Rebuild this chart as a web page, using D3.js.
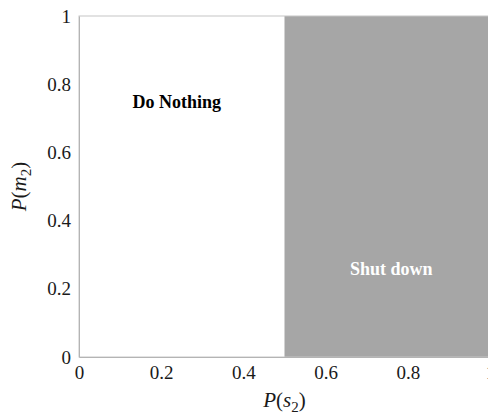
<!DOCTYPE html>
<html>
<head>
<meta charset="utf-8">
<script src="https://cdn.jsdelivr.net/npm/d3@7"></script>
<style>
  html, body { margin: 0; padding: 0; background: #fff; }
  svg { display: block; }
</style>
</head>
<body>
<svg id="chart" width="488" height="416"></svg>
<script>
// Decision regions over P(s2) (x) and P(m2) (y)
const xTicks = [0, 0.2, 0.4, 0.6, 0.8, 1];
const yTicks = [0, 0.2, 0.4, 0.6, 0.8, 1];
const regionNames = ["Do Nothing", "Shut down"];
const regionX0 = [0, 0.5];
const regionX1 = [0.5, 1];
const regionFill = ["#ffffff", "#a6a6a6"];
const labelX = [0.238, 0.76];
const labelY = [0.75, 0.26];
const labelColor = ["#000000", "#ffffff"];

const serif = "'Liberation Serif', 'Times New Roman', serif";
const svg = d3.select("#chart");
const margin = { left: 79, top: 16 };
const plotW = 411, plotH = 341;

const x = d3.scaleLinear().domain([0, 1]).range([0, plotW]);
const y = d3.scaleLinear().domain([0, 1]).range([plotH, 0]);

const g = svg.append("g").attr("transform", `translate(${margin.left},${margin.top})`);

// Region fills
g.selectAll("rect.region")
  .data(regionNames)
  .join("rect")
  .attr("class", "region")
  .attr("x", (d, i) => x(regionX0[i]))
  .attr("width", (d, i) => x(regionX1[i]) - x(regionX0[i]))
  .attr("y", y(1))
  .attr("height", y(0) - y(1))
  .attr("fill", (d, i) => regionFill[i]);

// Frame
g.append("rect")
  .attr("x", 0).attr("y", 0)
  .attr("width", plotW).attr("height", plotH)
  .attr("fill", "none")
  .attr("stroke", "#c6c6c6")
  .attr("stroke-width", 1);

// Axes
const fmt = d => (d === 0 || d === 1) ? String(d) : d3.format(".1f")(d);

const xAxis = g.append("g")
  .attr("transform", `translate(0,${plotH})`)
  .call(d3.axisBottom(x).tickValues(xTicks).tickFormat(fmt).tickSize(0).tickPadding(9));
const yAxis = g.append("g")
  .call(d3.axisLeft(y).tickValues(yTicks).tickFormat(fmt).tickSize(0).tickPadding(8));

[xAxis, yAxis].forEach(a => {
  a.attr("font-family", serif).attr("font-size", 19);
  a.select(".domain").attr("stroke", "#b4b4b4");
  a.selectAll(".tick text")
    .attr("font-family", serif)
    .attr("font-size", 19)
    .attr("fill", "#1a1a1a");
});

// Region labels
g.selectAll("text.region-label")
  .data(regionNames)
  .join("text")
  .attr("class", "region-label")
  .attr("x", (d, i) => x(labelX[i]))
  .attr("y", (d, i) => y(labelY[i]))
  .attr("dy", "0.35em")
  .attr("text-anchor", "middle")
  .attr("font-family", serif)
  .attr("font-weight", "bold")
  .attr("font-size", 18)
  .attr("fill", (d, i) => labelColor[i])
  .text(d => d);

// Axis titles
const xTitle = svg.append("text")
  .attr("x", margin.left + x(0.5))
  .attr("y", 407)
  .attr("text-anchor", "middle")
  .attr("font-family", serif)
  .attr("font-size", 21)
  .attr("fill", "#1a1a1a");
xTitle.append("tspan").attr("font-style", "italic").text("P");
xTitle.append("tspan").text("(");
xTitle.append("tspan").attr("font-style", "italic").text("s");
xTitle.append("tspan").attr("font-size", 15).attr("dy", 5).text("2");
xTitle.append("tspan").attr("dy", -5).text(")");

const yTitle = svg.append("text")
  .attr("transform", `translate(26,${margin.top + y(0.5)}) rotate(-90)`)
  .attr("text-anchor", "middle")
  .attr("font-family", serif)
  .attr("font-size", 21)
  .attr("fill", "#1a1a1a");
yTitle.append("tspan").attr("font-style", "italic").text("P");
yTitle.append("tspan").text("(");
yTitle.append("tspan").attr("font-style", "italic").text("m");
yTitle.append("tspan").attr("font-size", 15).attr("dy", 5).text("2");
yTitle.append("tspan").attr("dy", -5).text(")");
</script>
</body>
</html>
